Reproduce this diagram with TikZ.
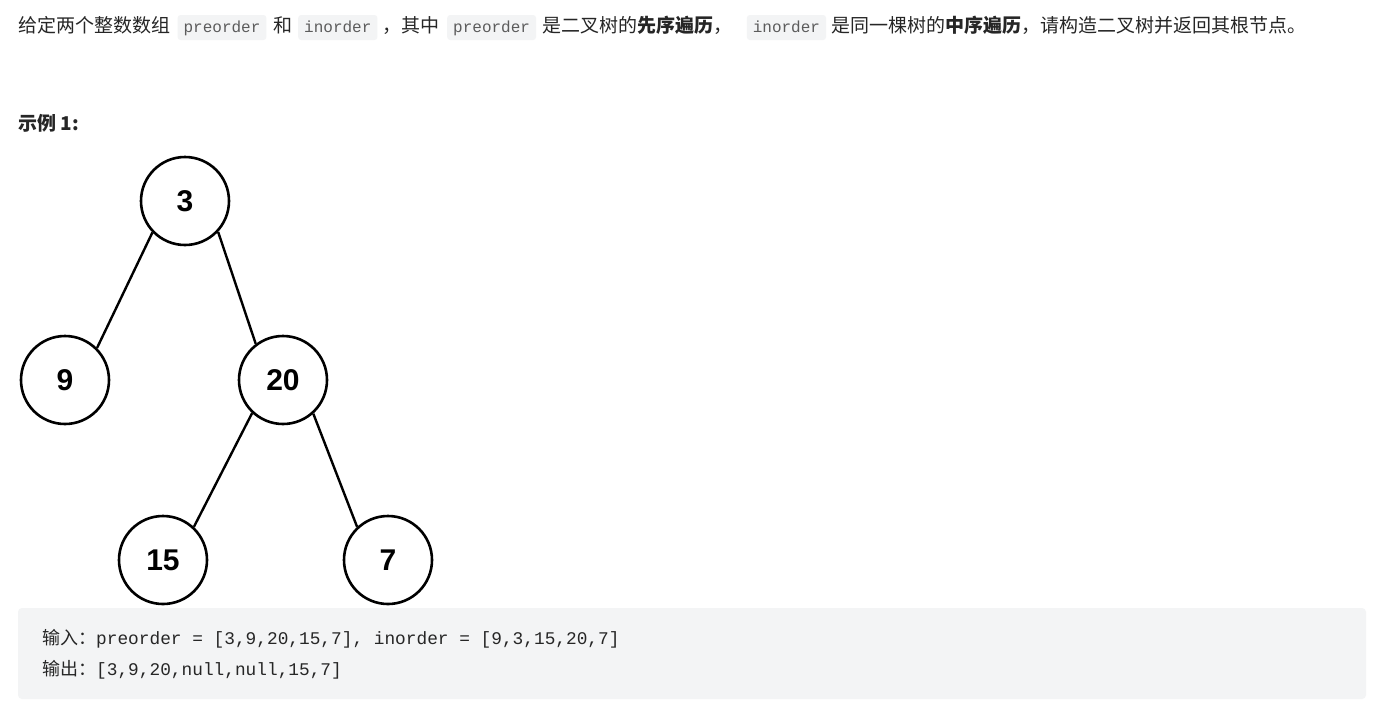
\documentclass[tikz,border=0pt]{standalone}
\usepackage{fontspec}
\setmainfont{Noto Sans CJK SC}
\newfontfamily\treefont{Liberation Sans}
\newfontfamily\monofont{Liberation Mono}
\usetikzlibrary{positioning}
\definecolor{chipgray}{HTML}{F3F4F5}
\definecolor{textdark}{HTML}{262626}
\definecolor{chiptext}{HTML}{5C5C5C}
\tikzset{
  desc/.style={inner sep=0pt, text=textdark, font=\fontsize{19}{22}\selectfont},
  chip/.style={fill=chipgray, rounded corners=3pt, inner xsep=6pt, inner ysep=4.5pt,
    text height=13pt, text depth=3pt, text=chiptext, font=\monofont\fontsize{16}{18}\selectfont},
  treenode/.style={circle, draw, line width=2.6pt, minimum size=88pt, inner sep=0pt,
    font=\treefont\bfseries\fontsize{30}{32}\selectfont},
  treeedge/.style={line width=2.4pt},
  codeline/.style={inner sep=0pt, anchor=base west, text=textdark},
}
\begin{document}
\begin{tikzpicture}[x=1pt, y=-1pt]
		\useasboundingbox[fill=white] (0,0) rectangle (1384,716);
		% Problem statement
		\node[desc, anchor=base west] (t1) at (18,32.5) {给定两个整数数组};
		\node[chip, base right=7pt of t1] (c1) {preorder};
		\node[desc, base right=7pt of c1] (t2) {和};
		\node[chip, base right=5pt of t2] (c2) {inorder};
		\node[desc, base right=5pt of c2] (t3) {，其中};
		\node[chip, base right=7pt of t3] (c3) {preorder};
		\node[desc, base right=6pt of c3] (t4) {是二叉树的\textbf{先序遍历}，};
		\node[chip, base right=14pt of t4] (c4) {inorder};
		\node[desc, base right=5pt of c4] (t5) {是同一棵树的\textbf{中序遍历}，请构造二叉树并返回其根节点。};
		% Example heading
		\node[desc, anchor=base west, font=\bfseries\fontsize{19}{22}\selectfont] (ex) at (18,130) {示例 1:};
		% Tree
		\node[treenode] (n3) at (185,201) {3};
		\node[treenode] (n9) at (65,380) {9};
		\node[treenode] (n20) at (283,380) {20};
		\node[treenode] (n15) at (163,560) {15};
		\node[treenode] (n7) at (388,560) {7};
		\draw[treeedge] (n3.224) -- (n9.45);
		\draw[treeedge] (n3.317) -- (n20.127);
		\draw[treeedge] (n20.227) -- (n15.47);
		\draw[treeedge] (n20.312) -- (n7.133);
		% Input / output box
		\fill[chipgray, rounded corners=4pt] (18,608) rectangle (1366,699);
		\node[codeline] (in) at (42,644) {\fontsize{18}{20}\selectfont 输入：\monofont\fontsize{17.8}{20}\selectfont preorder = [3,9,20,15,7], inorder = [9,3,15,20,7]};
		\node[codeline] (out) at (42,675) {\fontsize{18}{20}\selectfont 输出：\monofont\fontsize{17.8}{20}\selectfont [3,9,20,null,null,15,7]};
	\end{tikzpicture}
\end{document}
